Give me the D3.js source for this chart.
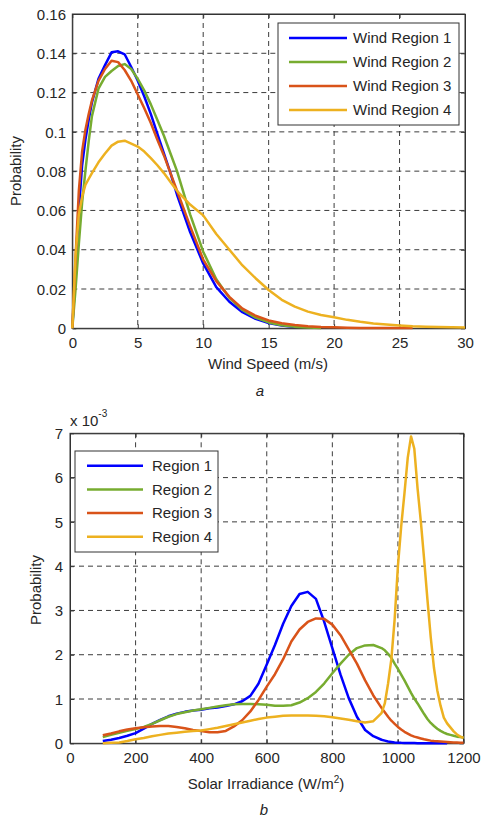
<!DOCTYPE html>
<html>
<head>
<meta charset="utf-8">
<script src="https://cdn.jsdelivr.net/npm/d3@7"></script>
<style>
  html, body { margin: 0; padding: 0; background: #fff; }
  svg { display: block; font-family: "Liberation Sans", Arial, Helvetica, sans-serif; }
</style>
</head>
<body>
<svg id="chart" width="481" height="820"></svg>
<script>
// ---------------- DATA ----------------
const windSpeed = [0, 0.25, 0.5, 0.75, 1, 1.25, 1.5, 2, 2.5, 3, 3.5, 4, 4.5, 5, 5.5, 6, 6.5, 7, 7.5, 8, 9, 10, 11, 12, 13, 14, 15, 16, 17, 18, 19, 20, 21, 22, 23, 24, 25, 26, 27, 28, 29, 30];
const windRegion1 = [0, 0.028, 0.060, 0.083, 0.096, 0.106, 0.115, 0.127, 0.134, 0.1405, 0.141, 0.1395, 0.133, 0.126, 0.118, 0.109, 0.099, 0.089, 0.079, 0.068, 0.049, 0.033, 0.021, 0.0135, 0.0082, 0.0048, 0.0027, 0.0014, 0.0006, null, null, null, null, null, null, null, null, null, null, null, null, null];
const windRegion2 = [0, 0.020, 0.043, 0.064, 0.080, 0.095, 0.108, 0.122, 0.128, 0.131, 0.1335, 0.1345, 0.132, 0.127, 0.121, 0.114, 0.106, 0.098, 0.089, 0.080, 0.058, 0.039, 0.025, 0.0155, 0.0093, 0.0054, 0.003, 0.0016, 0.0008, 0.0004, 0.0002, null, null, null, null, null, null, null, null, null, null, null];
const windRegion3 = [0, 0.036, 0.070, 0.090, 0.101, 0.109, 0.116, 0.126, 0.132, 0.1362, 0.1355, 0.1315, 0.126, 0.119, 0.112, 0.1045, 0.096, 0.088, 0.079, 0.070, 0.052, 0.035, 0.024, 0.016, 0.010, 0.0064, 0.004, 0.0026, 0.0017, 0.0011, 0.0007, 0.0005, 0.0003, 0.0002, 0.0002, 0.0001, 0.0001, 0.0001, null, null, null, null];
const windRegion4 = [0, 0.037, 0.058, 0.067, 0.073, 0.076, 0.079, 0.0845, 0.089, 0.093, 0.095, 0.0955, 0.094, 0.0925, 0.090, 0.0866, 0.083, 0.079, 0.0745, 0.070, 0.063, 0.0575, 0.048, 0.040, 0.032, 0.0255, 0.0195, 0.0145, 0.011, 0.0085, 0.0068, 0.0056, 0.0043, 0.0033, 0.0025, 0.0019, 0.0014, 0.001, 0.0008, 0.0006, 0.0005, 0.0004];
const windNames = ["Wind Region 1", "Wind Region 2", "Wind Region 3", "Wind Region 4"];
const windXTicks = [0, 5, 10, 15, 20, 25, 30];
const windYTicks = [0, 0.02, 0.04, 0.06, 0.08, 0.1, 0.12, 0.14, 0.16];
const windYTickLabels = ["0", "0.02", "0.04", "0.06", "0.08", "0.1", "0.12", "0.14", "0.16"];

const irradiance = [100,125,150,175,200,225,250,275,300,325,350,375,400,425,450,475,500,525,550,575,600,625,650,675,700,725,750,775,800,825,850,875,900,925,950,960,970,980,990,1000,1010,1020,1030,1040,1050,1060,1070,1080,1090,1100,1110,1120,1130,1140,1150,1160,1170,1180,1190,1200];
const solarRegion1 = [0.05,0.08,0.12,0.17,0.23,0.33,0.44,0.53,0.61,0.67,0.71,0.74,0.76,0.79,0.81,0.84,0.88,0.95,1.07,1.35,1.78,2.22,2.7,3.1,3.37,3.42,3.26,2.75,2.15,1.55,1.02,0.6,0.3,0.16,0.08,0.06,0.04,0.03,0.02,0.015,0.01,0.008,0.006,0.005,0.004,0.003,0.002,0.002,0.001,0.001,0.001,0.001,0.001,0.0005,0.0005,null,null,null,null,null];
const solarRegion2 = [0.14,0.19,0.24,0.28,0.32,0.37,0.44,0.52,0.60,0.66,0.70,0.74,0.77,0.80,0.83,0.86,0.88,0.89,0.89,0.88,0.87,0.85,0.85,0.86,0.92,1.02,1.16,1.35,1.58,1.8,2.0,2.15,2.21,2.22,2.15,2.1,2.02,1.93,1.8,1.68,1.55,1.42,1.28,1.14,1.01,0.9,0.78,0.66,0.55,0.46,0.39,0.33,0.28,0.24,0.21,0.19,0.17,0.15,0.14,0.13];
const solarRegion3 = [0.18,0.22,0.27,0.31,0.34,0.36,0.38,0.39,0.39,0.37,0.34,0.30,0.28,0.25,0.25,0.28,0.38,0.52,0.72,0.98,1.28,1.56,1.9,2.3,2.57,2.74,2.82,2.81,2.68,2.44,2.12,1.8,1.42,1.08,0.8,0.7,0.6,0.51,0.44,0.37,0.31,0.26,0.22,0.18,0.15,0.13,0.11,0.09,0.075,0.06,0.05,0.045,0.04,0.035,0.03,0.025,0.02,0.02,0.015,0.015];
const solarRegion4 = [0.0,0.01,0.02,0.05,0.09,0.12,0.16,0.19,0.22,0.24,0.26,0.28,0.29,0.32,0.35,0.39,0.43,0.47,0.51,0.55,0.58,0.6,0.62,0.63,0.63,0.63,0.62,0.61,0.59,0.56,0.53,0.5,0.47,0.5,0.68,0.9,1.35,1.9,2.8,4.0,4.9,5.65,6.45,6.93,6.65,5.75,5.0,4.15,3.25,2.4,1.7,1.2,0.85,0.58,0.45,0.36,0.27,0.2,0.15,0.12];
const solarNames = ["Region 1", "Region 2", "Region 3", "Region 4"];
const solarXTicks = [0, 200, 400, 600, 800, 1000, 1200];
const solarYTicks = [0, 1, 2, 3, 4, 5, 6, 7];

const seriesColors = ["#0000ff", "#77ac30", "#d95319", "#edb120"];

// ---------------- DRAW ----------------
const svg = d3.select("#chart");
const txtColor = "#262626";
const FS = 15;

function panel(cfg) {
  const x = d3.scaleLinear().domain(cfg.xDomain).range([cfg.left, cfg.right]);
  const y = d3.scaleLinear().domain(cfg.yDomain).range([cfg.bottom, cfg.top]);
  const g = svg.append("g");

  // grid
  g.selectAll(".gx").data(cfg.xTicks.slice(1, -1)).enter().append("line")
    .attr("x1", d => x(d)).attr("x2", d => x(d))
    .attr("y1", cfg.top).attr("y2", cfg.bottom)
    .attr("stroke", "#3c3c3c").attr("stroke-width", 1).attr("stroke-dasharray", "5,4");
  g.selectAll(".gy").data(cfg.yTicks.slice(1, -1)).enter().append("line")
    .attr("y1", d => y(d)).attr("y2", d => y(d))
    .attr("x1", cfg.left).attr("x2", cfg.right)
    .attr("stroke", "#3c3c3c").attr("stroke-width", 1).attr("stroke-dasharray", "5,4");

  // frame
  g.append("rect").attr("x", cfg.left).attr("y", cfg.top)
    .attr("width", cfg.right - cfg.left).attr("height", cfg.bottom - cfg.top)
    .attr("fill", "none").attr("stroke", "#333").attr("stroke-width", 1);

  // axes with inward ticks
  const gxAxis = g.append("g").attr("transform", `translate(0,${cfg.bottom})`)
    .call(d3.axisBottom(x).tickValues(cfg.xTicks).tickFormat(d => String(d)).tickSizeInner(-4).tickSizeOuter(0));
  const gyAxis = g.append("g").attr("transform", `translate(${cfg.left},0)`)
    .call(d3.axisLeft(y).tickValues(cfg.yTicks).tickFormat((d, i) => cfg.yLabels[i]).tickSizeInner(-4).tickSizeOuter(0));
  g.append("g").attr("transform", `translate(0,${cfg.top})`)
    .call(d3.axisTop(x).tickValues(cfg.xTicks).tickSizeInner(-4).tickSizeOuter(0).tickFormat(""));
  g.append("g").attr("transform", `translate(${cfg.right},0)`)
    .call(d3.axisRight(y).tickValues(cfg.yTicks).tickSizeInner(-4).tickSizeOuter(0).tickFormat(""));
  g.selectAll(".domain").attr("stroke", "#333");
  g.selectAll(".tick line").attr("stroke", "#333");
  [gxAxis, gyAxis].forEach(a => a.selectAll("text")
    .attr("font-size", FS).attr("fill", txtColor)
    .attr("font-family", "'Liberation Sans', Arial, sans-serif"));
  gxAxis.selectAll("text").attr("dy", null).attr("y", cfg.xLabelY - cfg.bottom);
  gyAxis.selectAll("text").attr("x", cfg.yLabelRight - cfg.left).attr("dy", "0.35em");

  // series
  const line = d3.line().defined(d => d[1] != null).x(d => x(d[0])).y(d => y(d[1]));
  cfg.series.forEach((s, i) => {
    g.append("path").datum(cfg.xs.map((v, k) => [v, s[k]]))
      .attr("d", line).attr("fill", "none")
      .attr("stroke", seriesColors[i]).attr("stroke-width", 2.5)
      .attr("stroke-linejoin", "round");
  });

  // y axis title
  g.append("text").attr("transform", `translate(${cfg.yTitleX},${cfg.yTitleY}) rotate(-90)`)
    .attr("text-anchor", "middle").attr("font-size", FS).attr("fill", txtColor).text("Probability");

  // legend
  const L = cfg.legend;
  g.append("rect").attr("x", L.x).attr("y", L.y).attr("width", L.w).attr("height", L.h)
    .attr("fill", "#fff").attr("stroke", "#333").attr("stroke-width", 1);
  cfg.names.forEach((n, i) => {
    const yy = L.y + L.first + i * L.step;
    g.append("line").attr("x1", L.x + L.l1).attr("x2", L.x + L.l2).attr("y1", yy).attr("y2", yy)
      .attr("stroke", seriesColors[i]).attr("stroke-width", 2.5);
    g.append("text").attr("x", L.x + L.tx).attr("y", yy).attr("dy", "0.35em")
      .attr("font-size", FS).attr("fill", txtColor).text(n);
  });

  // caption letter
  g.append("text").attr("x", cfg.capX).attr("y", cfg.capY).attr("text-anchor", "middle")
    .attr("font-size", 15).attr("font-style", "italic").attr("fill", txtColor).text(cfg.caption);
  return { x, y, g };
}

const windPanel = panel({
  xDomain: [0, 30], yDomain: [0, 0.16],
  left: 72.3, right: 465, top: 14, bottom: 328.3,
  xTicks: windXTicks, yTicks: windYTicks, yLabels: windYTickLabels,
  xLabelY: 348.5, yLabelRight: 66,
  xs: windSpeed, series: [windRegion1, windRegion2, windRegion3, windRegion4],
  yTitleX: 21, yTitleY: 171,
  names: windNames,
  legend: { x: 278, y: 23, w: 181, h: 102, first: 15, step: 24, l1: 11, l2: 69, tx: 75 },
  caption: "a", capX: 260, capY: 396
});
windPanel.g.append("text").attr("x", 268).attr("y", 368.5).attr("text-anchor", "middle")
  .attr("font-size", FS).attr("fill", txtColor).text("Wind Speed (m/s)");

const solarPanel = panel({
  xDomain: [0, 1200], yDomain: [0, 7],
  left: 70, right: 463.5, top: 433.3, bottom: 743.3,
  xTicks: solarXTicks, yTicks: solarYTicks, yLabels: solarYTicks.map(String),
  xLabelY: 763.5, yLabelRight: 63,
  xs: irradiance, series: [solarRegion1, solarRegion2, solarRegion3, solarRegion4],
  yTitleX: 41, yTitleY: 590,
  names: solarNames,
  legend: { x: 75, y: 451, w: 143, h: 101, first: 14.7, step: 23.7, l1: 12, l2: 68, tx: 77 },
  caption: "b", capX: 264, capY: 815
});

// x-axis title with superscript for bottom panel
const xt = solarPanel.g.append("text").attr("x", 266).attr("y", 788.5).attr("text-anchor", "middle")
  .attr("font-size", FS).attr("fill", txtColor);
xt.append("tspan").text("Solar Irradiance (W/m");
xt.append("tspan").attr("font-size", 10).attr("dy", -6).text("2");
xt.append("tspan").attr("dy", 6).text(")");

// exponent label
const ex = solarPanel.g.append("text").attr("x", 70).attr("y", 425.5).attr("font-size", FS).attr("fill", txtColor);
ex.append("tspan").text("x 10");
ex.append("tspan").attr("font-size", 10).attr("dy", -9).text("-3");
</script>
</body>
</html>
